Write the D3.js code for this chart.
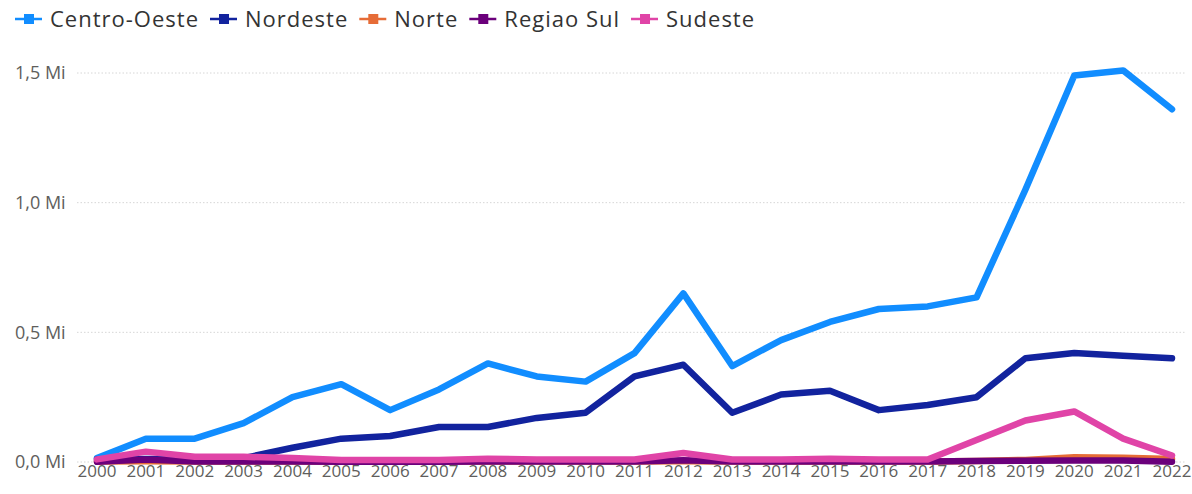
<!DOCTYPE html>
<html>
<head>
<meta charset="utf-8">
<script src="https://cdn.jsdelivr.net/npm/d3@7"></script>
<style>
  body { margin: 0; background: #fff; }
  text { font-family: "Open Sans", "Noto Sans", sans-serif; }
</style>
</head>
<body>
<div id="chart"></div>
<script>
// years on the x axis
const years = d3.range(2000, 2023).map(String);

// values in millions
const centroOeste = [0.015, 0.09, 0.09, 0.15, 0.25, 0.30, 0.20, 0.28, 0.38, 0.33, 0.31, 0.42, 0.65, 0.37, 0.47, 0.54, 0.59, 0.60, 0.635, 1.05, 1.49, 1.51, 1.36];
const nordeste    = [0.01, 0.012, 0.012, 0.015, 0.055, 0.09, 0.10, 0.135, 0.135, 0.17, 0.19, 0.33, 0.375, 0.19, 0.26, 0.275, 0.20, 0.22, 0.25, 0.40, 0.42, 0.41, 0.40];
const norte       = [0.002, 0.003, 0.002, 0.002, 0.002, 0.002, 0.002, 0.002, 0.002, 0.002, 0.002, 0.002, 0.003, 0.002, 0.002, 0.002, 0.002, 0.002, 0.004, 0.008, 0.018, 0.016, 0.012];
const regiaoSul   = [0.001, 0.01, 0.002, 0.002, 0.002, 0.001, 0.001, 0.001, 0.002, 0.002, 0.002, 0.002, 0.007, 0.002, 0.002, 0.002, 0.002, 0.002, 0.004, 0.005, 0.006, 0.006, 0.001];
const sudeste     = [0.01, 0.04, 0.02, 0.02, 0.015, 0.008, 0.008, 0.008, 0.013, 0.01, 0.01, 0.01, 0.035, 0.01, 0.01, 0.013, 0.01, 0.01, 0.085, 0.16, 0.195, 0.09, 0.025];

const seriesNames = ["Centro-Oeste", "Nordeste", "Norte", "Regiao Sul", "Sudeste"];
const seriesValues = [centroOeste, nordeste, norte, regiaoSul, sudeste];
const colors = ["#118DFF", "#12239E", "#E66C37", "#6B007B", "#E044A7"];
const yTicks = [0, 0.5, 1.0, 1.5];

const width = 1192, height = 494;
const margin = { top: 73, right: 20, bottom: 32, left: 97 };

const svg = d3.select("#chart").append("svg")
    .attr("width", width)
    .attr("height", height);

const x = d3.scalePoint()
    .domain(years)
    .range([margin.left, 1172]);

const y = d3.scaleLinear()
    .domain([0, 1.5])
    .range([462, margin.top]);

// gridlines
svg.append("g")
    .selectAll("line")
    .data(yTicks)
    .join("line")
    .attr("x1", 77)
    .attr("x2", 1186)
    .attr("y1", d => y(d))
    .attr("y2", d => y(d))
    .attr("stroke", "#d6d6d6")
    .attr("stroke-width", 1)
    .attr("stroke-dasharray", "1.5,2");

// y labels
svg.append("g")
    .selectAll("text")
    .data(yTicks)
    .join("text")
    .attr("x", 15)
    .attr("y", d => y(d))
    .attr("dy", "0.35em")
    .attr("font-size", 18)
    .attr("fill", "#605E5C")
    .text(d => d3.format(".1f")(d).replace(".", ",") + " Mi");

// x labels
svg.append("g")
    .selectAll("text")
    .data(years)
    .join("text")
    .attr("x", d => x(d))
    .attr("y", 471)
    .attr("dy", "0.35em")
    .attr("text-anchor", "middle")
    .attr("font-size", 17)
    .attr("fill", "#605E5C")
    .text(d => d);

// lines
const line = d3.line()
    .x((d, i) => x(years[i]))
    .y(d => y(d));

svg.append("g")
    .selectAll("path")
    .data(seriesValues)
    .join("path")
    .attr("d", d => line(d))
    .attr("fill", "none")
    .attr("stroke", (d, i) => colors[i])
    .attr("stroke-width", 6.5)
    .attr("stroke-linejoin", "round")
    .attr("stroke-linecap", "round");

// legend
const legend = svg.append("g").attr("transform", "translate(12,19)");
let lx = 0;
seriesNames.forEach((name, i) => {
    const g = legend.append("g").attr("transform", `translate(${lx},0)`);
    g.append("line")
        .attr("x1", 3).attr("x2", 30)
        .attr("y1", 0).attr("y2", 0)
        .attr("stroke", colors[i])
        .attr("stroke-width", 2.5);
    g.append("rect")
        .attr("x", 12).attr("y", -5)
        .attr("width", 10).attr("height", 10)
        .attr("fill", colors[i]);
    const t = g.append("text")
        .attr("x", 38)
        .attr("y", 0)
        .attr("dy", "0.35em")
        .attr("font-size", 22)
        .attr("letter-spacing", 1)
        .attr("fill", "#333")
        .text(name);
    lx += 38 + t.node().getComputedTextLength() + 8;
});
</script>
</body>
</html>
